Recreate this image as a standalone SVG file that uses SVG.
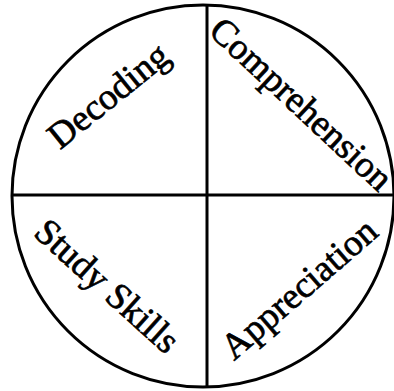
<svg xmlns="http://www.w3.org/2000/svg" width="394" height="391" viewBox="0 0 394 391">
<style>
.ln{fill:none;stroke:#000;stroke-width:3}
.lb{font-family:"Liberation Serif","Times New Roman",serif;font-size:37px;fill:#000;stroke:#000;stroke-width:0.7;text-anchor:middle}
</style>
<rect width="394" height="391" fill="#fff"/>
<g id="connectors">
<circle class="ln" cx="203" cy="196" r="191"/>
<line class="ln" x1="11" y1="195" x2="394" y2="195"/>
<line class="ln" x1="207" y1="5" x2="207" y2="388"/>
</g>
<g id="decoding"><text class="lb" transform="translate(116,105) rotate(-39)">Decoding</text></g>
<g id="comprehension"><text class="lb" transform="translate(293,113) rotate(43)">Comprehension</text></g>
<g id="study-skills"><text class="lb" transform="translate(99,295) rotate(42)">Study Skills</text></g>
<g id="appreciation"><text class="lb" transform="translate(307,298) rotate(-41)">Appreciation</text></g>
</svg>
